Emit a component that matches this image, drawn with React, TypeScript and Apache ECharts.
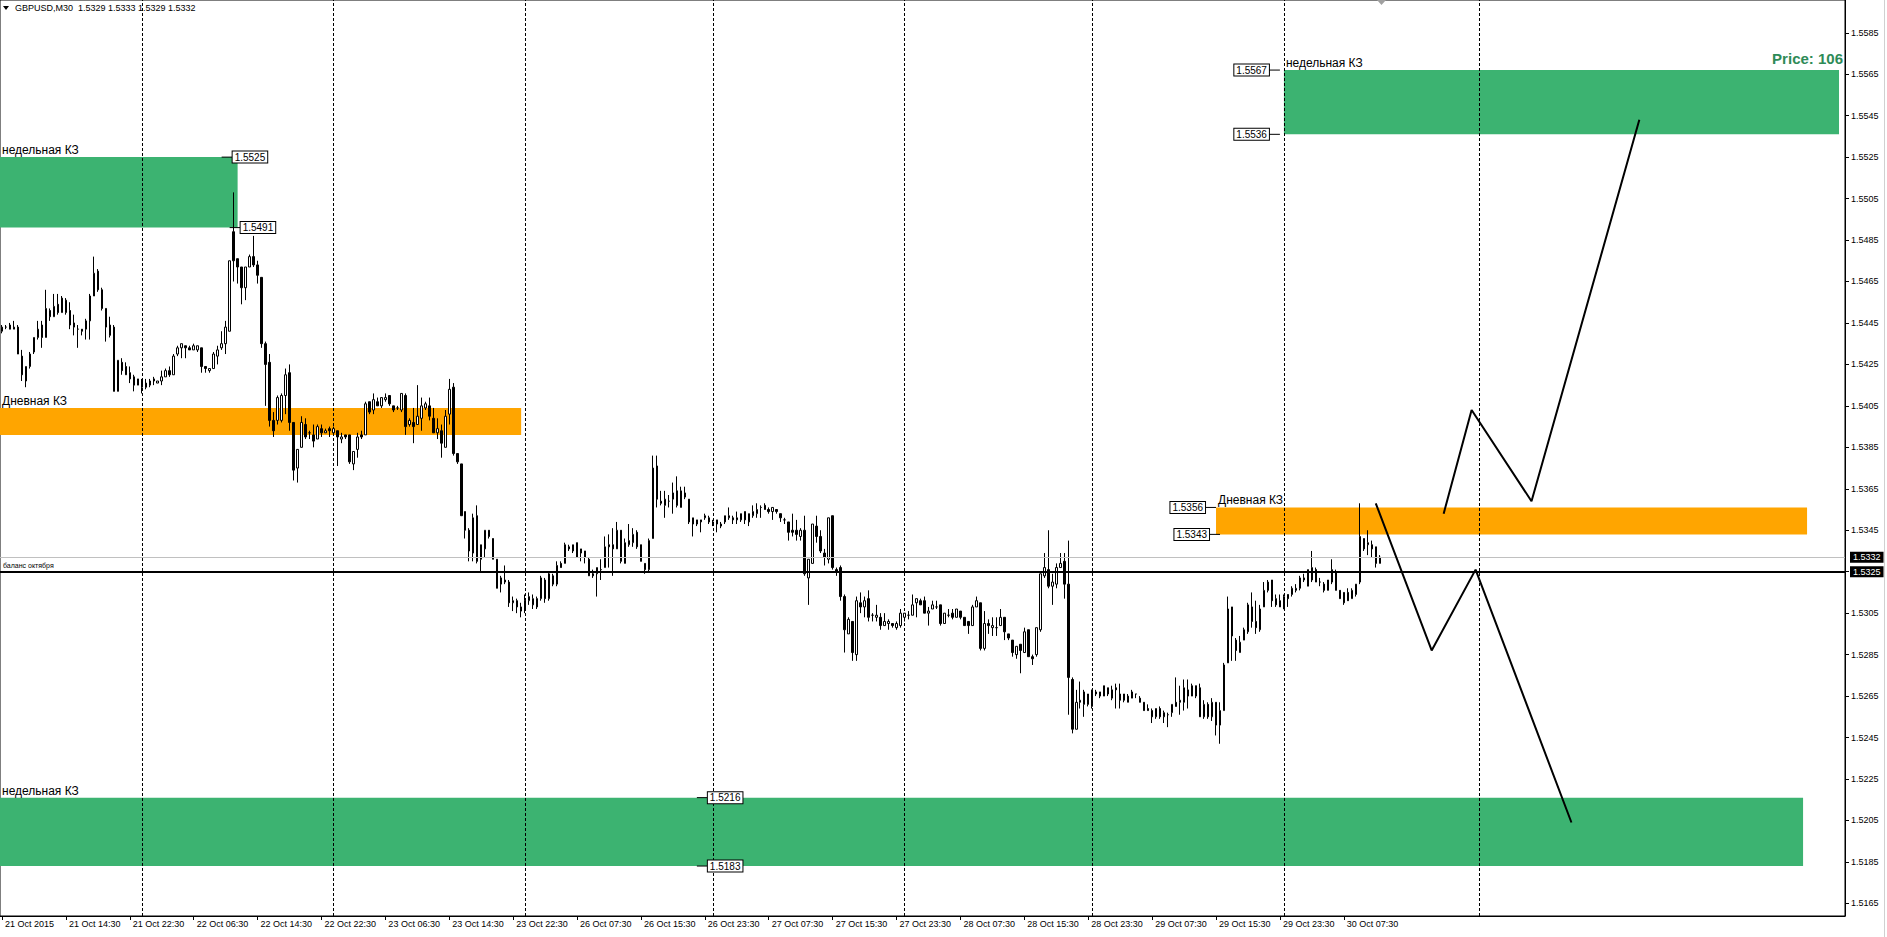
import React, { useEffect, useRef } from 'react';
import * as echarts from 'echarts';

const FONT = '"Liberation Sans", Arial, sans-serif';

// GBPUSD M30 candles, bar 0 = 21 Oct 2015 06:30
const open = [
1.5441,1.5443,1.5444,1.5442,1.5443,1.5429,1.5417,1.5424,1.5431,1.5438,
1.5444,1.5438,1.5451,1.5448,1.5454,1.5450,1.5450,1.5451,1.5445,1.5442,
1.5442,1.5442,1.5446,1.5458,1.5470,1.5461,1.5452,1.5439,1.5443,1.5412,
1.5426,1.5424,1.5421,1.5419,1.5415,1.5417,1.5416,1.5415,1.5418,1.5416,
1.5417,1.5419,1.5422,1.5420,1.5430,1.5433,1.5434,1.5433,1.5432,1.5432,
1.5433,1.5424,1.5422,1.5423,1.5429,1.5433,1.5435,1.5441,1.5489,1.5476,
1.5472,1.5462,1.5472,1.5477,1.5473,1.5467,1.5435,1.5426,1.5398,1.5398,
1.5398,1.5410,1.5421,1.5397,1.5375,1.5385,1.5396,1.5392,1.5391,1.5389,
1.5394,1.5392,1.5394,1.5392,1.5393,1.5389,1.5391,1.5391,1.5377,1.5384,
1.5391,1.5391,1.5407,1.5403,1.5407,1.5405,1.5408,1.5410,1.5405,1.5404,
1.5403,1.5410,1.5396,1.5397,1.5396,1.5399,1.5404,1.5405,1.5399,1.5392,
1.5393,1.5385,1.5401,1.5414,1.5382,1.5377,1.5354,1.5345,1.5334,1.5352,
1.5331,1.5336,1.5345,1.5341,1.5331,1.5319,1.5321,1.5320,1.5310,1.5311,
1.5308,1.5307,1.5311,1.5309,1.5312,1.5312,1.5321,1.5312,1.5323,1.5319,
1.5329,1.5329,1.5337,1.5335,1.5339,1.5334,1.5335,1.5331,1.5324,1.5324,
1.5326,1.5327,1.5338,1.5338,1.5336,1.5345,1.5329,1.5338,1.5339,1.5344,
1.5338,1.5329,1.5326,1.5341,1.5376,1.5359,1.5357,1.5359,1.5360,1.5364,
1.5356,1.5363,1.5360,1.5348,1.5350,1.5349,1.5351,1.5351,1.5348,1.5350,
1.5347,1.5349,1.5351,1.5351,1.5350,1.5350,1.5354,1.5349,1.5352,1.5353,
1.5356,1.5357,1.5355,1.5354,1.5355,1.5353,1.5350,1.5349,1.5345,1.5345,
1.5342,1.5345,1.5322,1.5329,1.5347,1.5342,1.5334,1.5331,1.5352,1.5326,
1.5327,1.5313,1.5295,1.5301,1.5285,1.5310,1.5308,1.5312,1.5304,1.5303,
1.5303,1.5299,1.5300,1.5300,1.5298,1.5299,1.5303,1.5304,1.5304,1.5310,
1.5311,1.5311,1.5305,1.5307,1.5308,1.5309,1.5300,1.5304,1.5305,1.5303,
1.5306,1.5303,1.5301,1.5299,1.5308,1.5310,1.5288,1.5300,1.5298,1.5298,
1.5299,1.5303,1.5295,1.5292,1.5285,1.5290,1.5286,1.5297,1.5284,1.5285,
1.5297,1.5323,1.5326,1.5318,1.5319,1.5327,1.5330,1.5319,1.5273,1.5249,
1.5262,1.5261,1.5266,1.5260,1.5267,1.5267,1.5265,1.5269,1.5264,1.5269,
1.5266,1.5266,1.5262,1.5264,1.5266,1.5264,1.5262,1.5259,1.5258,1.5255,
1.5259,1.5255,1.5256,1.5257,1.5262,1.5262,1.5262,1.5265,1.5265,1.5270,
1.5269,1.5255,1.5261,1.5255,1.5262,1.5251,1.5258,1.5281,1.5308,1.5292,
1.5286,1.5292,1.5296,1.5308,1.5301,1.5297,1.5308,1.5316,1.5321,1.5312,
1.5311,1.5307,1.5314,1.5314,1.5316,1.5317,1.5321,1.5318,1.5321,1.5326,
1.5320,1.5319,1.5316,1.5320,1.5325,1.5316,1.5315,1.5315,1.5312,1.5314,
1.5320,1.5341,1.5338,1.5338,1.5337,1.5329,
];

const close = [
1.5443,1.5443,1.5442,1.5443,1.5430,1.5420,1.5424,1.5430,1.5438,1.5442,
1.5438,1.5452,1.5448,1.5453,1.5450,1.5457,1.5456,1.5444,1.5443,1.5442,
1.5441,1.5446,1.5458,1.5469,1.5461,1.5452,1.5443,1.5444,1.5412,1.5427,
1.5422,1.5420,1.5418,1.5415,1.5418,1.5414,1.5414,1.5417,1.5417,1.5417,
1.5419,1.5422,1.5420,1.5429,1.5433,1.5435,1.5433,1.5432,1.5434,1.5434,
1.5424,1.5423,1.5423,1.5430,1.5432,1.5435,1.5443,1.5475,1.5475,1.5472,
1.5462,1.5472,1.5477,1.5473,1.5468,1.5435,1.5425,1.5398,1.5393,1.5409,
1.5410,1.5420,1.5397,1.5374,1.5384,1.5397,1.5390,1.5392,1.5388,1.5395,
1.5392,1.5393,1.5393,1.5394,1.5390,1.5390,1.5390,1.5378,1.5383,1.5390,
1.5390,1.5406,1.5402,1.5408,1.5405,1.5409,1.5409,1.5406,1.5403,1.5404,
1.5411,1.5395,1.5398,1.5395,1.5400,1.5405,1.5406,1.5400,1.5392,1.5394,
1.5387,1.5400,1.5413,1.5382,1.5378,1.5352,1.5345,1.5335,1.5351,1.5330,
1.5338,1.5345,1.5342,1.5331,1.5317,1.5322,1.5320,1.5310,1.5311,1.5308,
1.5306,1.5311,1.5313,1.5312,1.5308,1.5322,1.5312,1.5324,1.5319,1.5328,
1.5327,1.5338,1.5336,1.5338,1.5332,1.5336,1.5332,1.5323,1.5323,1.5327,
1.5326,1.5337,1.5337,1.5336,1.5345,1.5330,1.5339,1.5340,1.5343,1.5337,
1.5330,1.5326,1.5340,1.5375,1.5360,1.5358,1.5360,1.5359,1.5363,1.5357,
1.5364,1.5361,1.5349,1.5351,1.5348,1.5350,1.5352,1.5349,1.5349,1.5348,
1.5348,1.5352,1.5352,1.5350,1.5351,1.5353,1.5350,1.5353,1.5354,1.5355,
1.5356,1.5355,1.5354,1.5356,1.5354,1.5351,1.5350,1.5344,1.5344,1.5343,
1.5345,1.5324,1.5331,1.5348,1.5342,1.5335,1.5332,1.5351,1.5327,1.5325,
1.5313,1.5297,1.5302,1.5286,1.5311,1.5308,1.5311,1.5303,1.5304,1.5304,
1.5299,1.5301,1.5301,1.5299,1.5300,1.5305,1.5305,1.5304,1.5309,1.5312,
1.5309,1.5305,1.5306,1.5309,1.5308,1.5300,1.5305,1.5304,1.5303,1.5307,
1.5303,1.5299,1.5299,1.5308,1.5311,1.5288,1.5300,1.5299,1.5299,1.5298,
1.5303,1.5296,1.5293,1.5286,1.5289,1.5287,1.5296,1.5284,1.5283,1.5298,
1.5324,1.5327,1.5318,1.5320,1.5327,1.5329,1.5319,1.5274,1.5249,1.5262,
1.5263,1.5267,1.5261,1.5268,1.5266,1.5265,1.5270,1.5266,1.5268,1.5268,
1.5263,1.5263,1.5265,1.5267,1.5266,1.5262,1.5258,1.5258,1.5255,1.5259,
1.5255,1.5257,1.5256,1.5261,1.5260,1.5263,1.5269,1.5268,1.5270,1.5265,
1.5255,1.5261,1.5255,1.5262,1.5251,1.5258,1.5280,1.5307,1.5294,1.5287,
1.5291,1.5297,1.5309,1.5301,1.5298,1.5307,1.5316,1.5320,1.5311,1.5309,
1.5308,1.5313,1.5312,1.5317,1.5317,1.5322,1.5322,1.5326,1.5327,1.5320,
1.5320,1.5316,1.5321,1.5326,1.5316,1.5312,1.5310,1.5311,1.5316,1.5319,
1.5342,1.5336,1.5339,1.5336,1.5329,1.5332,
];

const low = [
1.5440,1.5442,1.5442,1.5442,1.5430,1.5417,1.5414,1.5423,1.5430,1.5437,
1.5433,1.5438,1.5446,1.5448,1.5449,1.5450,1.5449,1.5442,1.5439,1.5433,
1.5439,1.5437,1.5437,1.5458,1.5460,1.5451,1.5436,1.5438,1.5412,1.5412,
1.5420,1.5420,1.5416,1.5412,1.5415,1.5411,1.5413,1.5414,1.5415,1.5416,
1.5415,1.5419,1.5419,1.5420,1.5429,1.5428,1.5428,1.5432,1.5432,1.5431,
1.5421,1.5421,1.5421,1.5423,1.5425,1.5432,1.5430,1.5441,1.5465,1.5464,
1.5454,1.5456,1.5472,1.5472,1.5464,1.5433,1.5405,1.5395,1.5390,1.5396,
1.5397,1.5401,1.5393,1.5369,1.5368,1.5385,1.5389,1.5389,1.5385,1.5389,
1.5390,1.5392,1.5390,1.5391,1.5376,1.5387,1.5389,1.5377,1.5374,1.5380,
1.5389,1.5391,1.5401,1.5401,1.5405,1.5404,1.5407,1.5405,1.5402,1.5403,
1.5402,1.5391,1.5395,1.5387,1.5396,1.5393,1.5403,1.5398,1.5392,1.5389,
1.5380,1.5385,1.5396,1.5381,1.5377,1.5352,1.5341,1.5330,1.5330,1.5329,
1.5325,1.5332,1.5341,1.5331,1.5317,1.5315,1.5319,1.5308,1.5306,1.5305,
1.5303,1.5305,1.5309,1.5307,1.5307,1.5311,1.5310,1.5311,1.5318,1.5318,
1.5327,1.5329,1.5335,1.5334,1.5332,1.5330,1.5329,1.5323,1.5322,1.5313,
1.5321,1.5327,1.5327,1.5323,1.5336,1.5329,1.5329,1.5337,1.5337,1.5336,
1.5330,1.5324,1.5325,1.5341,1.5356,1.5357,1.5351,1.5356,1.5353,1.5356,
1.5356,1.5360,1.5348,1.5342,1.5347,1.5344,1.5350,1.5348,1.5347,1.5344,
1.5346,1.5348,1.5350,1.5348,1.5348,1.5349,1.5348,1.5347,1.5351,1.5351,
1.5351,1.5355,1.5353,1.5350,1.5353,1.5349,1.5348,1.5340,1.5342,1.5340,
1.5340,1.5323,1.5309,1.5329,1.5339,1.5334,1.5328,1.5329,1.5326,1.5323,
1.5311,1.5286,1.5295,1.5282,1.5282,1.5305,1.5303,1.5301,1.5301,1.5301,
1.5297,1.5299,1.5297,1.5298,1.5297,1.5298,1.5301,1.5302,1.5304,1.5303,
1.5309,1.5305,1.5299,1.5307,1.5307,1.5299,1.5300,1.5303,1.5302,1.5303,
1.5302,1.5299,1.5295,1.5299,1.5308,1.5287,1.5287,1.5295,1.5294,1.5294,
1.5299,1.5292,1.5292,1.5284,1.5283,1.5276,1.5286,1.5284,1.5280,1.5284,
1.5296,1.5322,1.5317,1.5309,1.5317,1.5327,1.5312,1.5256,1.5247,1.5249,
1.5259,1.5255,1.5260,1.5259,1.5265,1.5264,1.5265,1.5265,1.5263,1.5259,
1.5259,1.5262,1.5262,1.5264,1.5264,1.5262,1.5258,1.5258,1.5252,1.5254,
1.5254,1.5252,1.5250,1.5255,1.5260,1.5256,1.5258,1.5259,1.5265,1.5264,
1.5255,1.5254,1.5254,1.5253,1.5246,1.5242,1.5258,1.5281,1.5282,1.5282,
1.5286,1.5292,1.5295,1.5298,1.5295,1.5296,1.5308,1.5315,1.5308,1.5308,
1.5308,1.5307,1.5308,1.5313,1.5315,1.5316,1.5320,1.5318,1.5320,1.5320,
1.5318,1.5315,1.5316,1.5319,1.5316,1.5312,1.5309,1.5311,1.5312,1.5313,
1.5319,1.5335,1.5333,1.5332,1.5327,1.5329,
];

const high = [
1.5444,1.5444,1.5445,1.5446,1.5444,1.5432,1.5424,1.5431,1.5438,1.5446,
1.5446,1.5461,1.5452,1.5459,1.5459,1.5458,1.5457,1.5455,1.5449,1.5444,
1.5442,1.5447,1.5459,1.5477,1.5471,1.5462,1.5452,1.5448,1.5444,1.5427,
1.5428,1.5426,1.5424,1.5420,1.5418,1.5418,1.5418,1.5418,1.5419,1.5417,
1.5422,1.5423,1.5424,1.5430,1.5434,1.5435,1.5434,1.5434,1.5435,1.5434,
1.5433,1.5424,1.5423,1.5431,1.5434,1.5441,1.5446,1.5475,1.5508,1.5476,
1.5472,1.5472,1.5478,1.5487,1.5475,1.5467,1.5436,1.5430,1.5402,1.5410,
1.5411,1.5423,1.5425,1.5397,1.5384,1.5400,1.5399,1.5393,1.5396,1.5396,
1.5396,1.5394,1.5395,1.5395,1.5393,1.5392,1.5391,1.5391,1.5383,1.5392,
1.5393,1.5407,1.5407,1.5411,1.5409,1.5409,1.5411,1.5410,1.5405,1.5405,
1.5411,1.5411,1.5399,1.5404,1.5415,1.5409,1.5407,1.5409,1.5404,1.5399,
1.5396,1.5403,1.5418,1.5416,1.5382,1.5377,1.5354,1.5346,1.5353,1.5357,
1.5338,1.5345,1.5345,1.5341,1.5331,1.5323,1.5328,1.5321,1.5313,1.5312,
1.5310,1.5314,1.5315,1.5314,1.5313,1.5323,1.5322,1.5325,1.5324,1.5330,
1.5330,1.5339,1.5338,1.5338,1.5339,1.5336,1.5335,1.5332,1.5326,1.5327,
1.5331,1.5342,1.5343,1.5346,1.5349,1.5345,1.5341,1.5348,1.5346,1.5345,
1.5338,1.5329,1.5341,1.5381,1.5381,1.5364,1.5364,1.5362,1.5368,1.5371,
1.5366,1.5366,1.5360,1.5351,1.5350,1.5350,1.5353,1.5352,1.5350,1.5350,
1.5349,1.5352,1.5356,1.5352,1.5354,1.5353,1.5354,1.5353,1.5357,1.5358,
1.5357,1.5358,1.5356,1.5356,1.5355,1.5353,1.5351,1.5349,1.5353,1.5350,
1.5346,1.5352,1.5331,1.5348,1.5352,1.5345,1.5336,1.5351,1.5352,1.5327,
1.5328,1.5314,1.5303,1.5301,1.5313,1.5315,1.5313,1.5316,1.5305,1.5309,
1.5305,1.5305,1.5302,1.5300,1.5301,1.5307,1.5305,1.5306,1.5314,1.5312,
1.5312,1.5313,1.5308,1.5311,1.5311,1.5309,1.5305,1.5307,1.5307,1.5307,
1.5306,1.5303,1.5301,1.5309,1.5313,1.5310,1.5306,1.5302,1.5303,1.5303,
1.5307,1.5303,1.5295,1.5292,1.5289,1.5290,1.5298,1.5297,1.5285,1.5298,
1.5324,1.5334,1.5345,1.5324,1.5329,1.5334,1.5334,1.5340,1.5274,1.5268,
1.5272,1.5268,1.5266,1.5268,1.5268,1.5267,1.5270,1.5269,1.5270,1.5271,
1.5271,1.5266,1.5266,1.5268,1.5266,1.5265,1.5262,1.5261,1.5259,1.5259,
1.5260,1.5258,1.5257,1.5261,1.5274,1.5270,1.5273,1.5273,1.5271,1.5270,
1.5271,1.5263,1.5262,1.5264,1.5262,1.5262,1.5281,1.5313,1.5308,1.5293,
1.5294,1.5298,1.5310,1.5315,1.5311,1.5309,1.5320,1.5321,1.5321,1.5314,
1.5314,1.5314,1.5314,1.5318,1.5319,1.5323,1.5324,1.5326,1.5335,1.5327,
1.5322,1.5320,1.5321,1.5331,1.5326,1.5316,1.5315,1.5317,1.5317,1.5319,
1.5358,1.5341,1.5345,1.5340,1.5337,1.5333,
];

// time scale labels (one every 16 bars, starting at bar 0)
const timeLabels = [
  '21 Oct 2015', '21 Oct 14:30', '21 Oct 22:30', '22 Oct 06:30', '22 Oct 14:30', '22 Oct 22:30',
  '23 Oct 06:30', '23 Oct 14:30', '23 Oct 22:30', '26 Oct 07:30', '26 Oct 15:30', '26 Oct 23:30',
  '27 Oct 07:30', '27 Oct 15:30', '27 Oct 23:30', '28 Oct 07:30', '28 Oct 15:30', '28 Oct 23:30',
  '29 Oct 07:30', '29 Oct 15:30', '29 Oct 23:30', '30 Oct 07:30',
];
const timeLabelStep = 16;

const priceTicks = [
  1.5165, 1.5185, 1.5205, 1.5225, 1.5245, 1.5265, 1.5285, 1.5305, 1.5325, 1.5345, 1.5365,
  1.5385, 1.5405, 1.5425, 1.5445, 1.5465, 1.5485, 1.5505, 1.5525, 1.5545, 1.5565, 1.5585,
];

// vertical grid lines (bar indices)
const gridBars = [35, 83, 131, 178, 226, 273, 321, 370];

const balanceLevel = 1.5325;
const bidLevel = 1.5332;

// zones
const zoneNames = ['недельная КЗ', 'Дневная КЗ', 'недельная КЗ', 'Дневная КЗ', 'недельная КЗ'];
const zoneFrom: (number | null)[] = [null, null, 321, 304, null];
const zoneTo = [59, 130, 460, 452, 451];
const zoneTop = [1.5525, 1.5404, 1.5567, 1.5356, 1.5216];
const zoneBottom = [1.5491, 1.5391, 1.5536, 1.5343, 1.5183];
const zoneColors = ['#3CB371', '#FFA500', '#3CB371', '#FFA500', '#3CB371'];

// price tags
const tagBars = [55, 57, 320, 320, 304, 305, 174, 174];
const tagPrices = [1.5525, 1.5491, 1.5567, 1.5536, 1.5356, 1.5343, 1.5216, 1.5183];
const tagSides = [1, 1, -1, -1, -1, -1, 1, 1];

// forecast paths
const pathDownBars = [344, 358, 369, 393];
const pathDownPrices = [1.5358, 1.5287, 1.5326, 1.5204];
const pathUpBars = [361, 368, 383, 410];
const pathUpPrices = [1.5353, 1.5403, 1.5359, 1.5543];

const priceLabelText = 'Price: 106';

const SLOT_COUNT = 462;
const Y_MIN = 1.51589;
const Y_MAX = 1.56008;

export default function App() {
  const ref = useRef<HTMLDivElement>(null);
  useEffect(() => {
    const chart = echarts.init(ref.current as HTMLDivElement, null, { renderer: 'svg' });
    const slots = Array.from({ length: SLOT_COUNT }, (_, i) => String(i));
    const labelAt = new Map<number, string>();
    timeLabels.forEach((t, k) => labelAt.set(k * timeLabelStep, t));
    const candles = open.map((o, i) => [
      o, close[i], Math.min(low[i], o, close[i]), Math.max(high[i], o, close[i]),
    ]);
    const last = open.length - 1;
    const header = 'GBPUSD,M30  ' + [open[last], high[last], low[last], close[last]].map((v) => v.toFixed(4)).join(' ');

    const zonesData = zoneTop.map((top, k) => {
      const first: any = {
        yAxis: top,
        itemStyle: { color: zoneColors[k], opacity: 1 },
        label: {
          show: true, formatter: zoneNames[k], position: [2, -1], align: 'left', verticalAlign: 'bottom',
          color: '#000', fontSize: 12, fontFamily: FONT,
        },
      };
      if (zoneFrom[k] !== null) first.xAxis = zoneFrom[k];
      return [first, { xAxis: zoneTo[k], yAxis: zoneBottom[k] }];
    });

    const boxLabel = {
      show: true, position: 'end', distance: 5,
      formatter: (p: any) => Number(p.value).toFixed(4),
      backgroundColor: '#000', color: '#fff', padding: [1, 3, 1, 3], fontSize: 9, fontFamily: FONT,
    };

    const option: any = {
      animation: false,
      backgroundColor: '#fff',
      textStyle: { fontFamily: FONT },
      grid: { left: -1, right: 42, top: 0, bottom: 21, show: true, borderColor: '#000', borderWidth: 1 },
      xAxis: {
        type: 'category', data: slots, boundaryGap: true,
        axisLine: { show: true, lineStyle: { color: '#000', width: 1 } },
        axisTick: {
          show: true, alignWithLabel: true, length: 4, lineStyle: { color: '#000' },
          interval: (i: number) => labelAt.has(i),
        },
        axisLabel: {
          interval: (i: number) => labelAt.has(i),
          formatter: (_v: string, i: number) => labelAt.get(i) || '',
          align: 'left', margin: 3, padding: [0, 0, 0, 3], fontSize: 9, color: '#000', fontFamily: FONT,
        },
        splitLine: { show: false },
      },
      yAxis: {
        type: 'value', position: 'right', min: Y_MIN, max: Y_MAX,
        axisLine: { show: true, lineStyle: { color: '#000', width: 1 } },
        axisTick: { show: true, length: 4, customValues: priceTicks, lineStyle: { color: '#000' } },
        axisLabel: {
          customValues: priceTicks, formatter: (v: number) => v.toFixed(4), margin: 6,
          fontSize: 9, color: '#000', fontFamily: FONT,
        },
        splitLine: { show: false },
      },
      graphic: [
        { type: 'polygon', shape: { points: [[3, 6], [9, 6], [6, 10]] }, style: { fill: '#000' } },
        { type: 'text', left: 15, top: 3, style: { text: header, fill: '#000', font: '9px ' + FONT } },
        { type: 'text', right: 44, top: 51, style: { text: priceLabelText, fill: '#2E8B57', font: 'bold 15px ' + FONT } },
        { type: 'polygon', shape: { points: [[1377, 0], [1386, 0], [1381.5, 5]] }, style: { fill: '#A0A0A0' } },
        { type: 'line', shape: { x1: 1884.5, y1: 0, x2: 1884.5, y2: 937 }, style: { stroke: '#D0D0D0', lineWidth: 1 } },
      ],
      series: [
        {
          type: 'line', data: [], z: 1,
          markLine: {
            silent: true, symbol: ['none', 'none'], z: 1.5, precision: 4, label: { show: false },
            lineStyle: { color: '#000', type: [3, 2], width: 1 },
            data: gridBars.map((b) => ({ xAxis: b })),
          },
        },
        {
          type: 'candlestick', data: candles, barWidth: 2, z: 2,
          itemStyle: { color: '#fff', color0: '#000', borderColor: '#000', borderColor0: '#000', borderWidth: 1 },
          markArea: { silent: true, data: zonesData },
        },
        {
          type: 'line', data: [], z: 5,
          markLine: {
            silent: true, symbol: ['none', 'none'], precision: 4,
            data: [
              { yAxis: bidLevel, lineStyle: { color: '#C0C0C0', width: 1, type: 'solid' }, label: boxLabel },
              { yAxis: balanceLevel, lineStyle: { color: '#000', width: 2, type: 'solid' }, label: boxLabel },
              {
                yAxis: balanceLevel, lineStyle: { color: 'rgba(0,0,0,0)', width: 0 },
                label: { show: true, position: 'insideStartTop', distance: 3, formatter: 'баланс октября', fontSize: 7, color: '#000', fontFamily: FONT },
              },
            ],
          },
        },
        {
          type: 'line', z: 6, symbol: 'none', silent: true,
          data: pathDownBars.map((b, i) => [b, pathDownPrices[i]]),
          lineStyle: { color: '#000', width: 2 },
        },
        {
          type: 'line', z: 6, symbol: 'none', silent: true,
          data: pathUpBars.map((b, i) => [b, pathUpPrices[i]]),
          lineStyle: { color: '#000', width: 2 },
        },
        {
          type: 'custom', z: 7, clip: false, silent: true,
          data: tagBars.map((b, i) => [b, tagPrices[i], tagSides[i]]),
          encode: { x: 0, y: 1 },
          renderItem: (_params: any, api: any) => {
            const val = api.value(1);
            const side = api.value(2);
            const p = api.coord([api.value(0), val]);
            const x2 = p[0] + side * 11;
            return {
              type: 'group',
              children: [
                { type: 'line', shape: { x1: p[0], y1: p[1], x2, y2: p[1] }, style: { stroke: '#000', lineWidth: 1 } },
                {
                  type: 'text', x: x2, y: p[1],
                  style: {
                    text: Number(val).toFixed(4), fill: '#000', font: '10px ' + FONT,
                    align: side > 0 ? 'left' : 'right', verticalAlign: 'middle',
                    backgroundColor: '#fff', borderColor: '#000', borderWidth: 1, padding: [1, 2, 0, 2],
                  },
                },
              ],
            };
          },
        },
      ],
    };
    chart.setOption(option);
    return () => chart.dispose();
  }, []);
  return <div ref={ref} style={{ position: 'fixed', left: 0, top: 0, width: 1887, height: 937 }} />;
}
